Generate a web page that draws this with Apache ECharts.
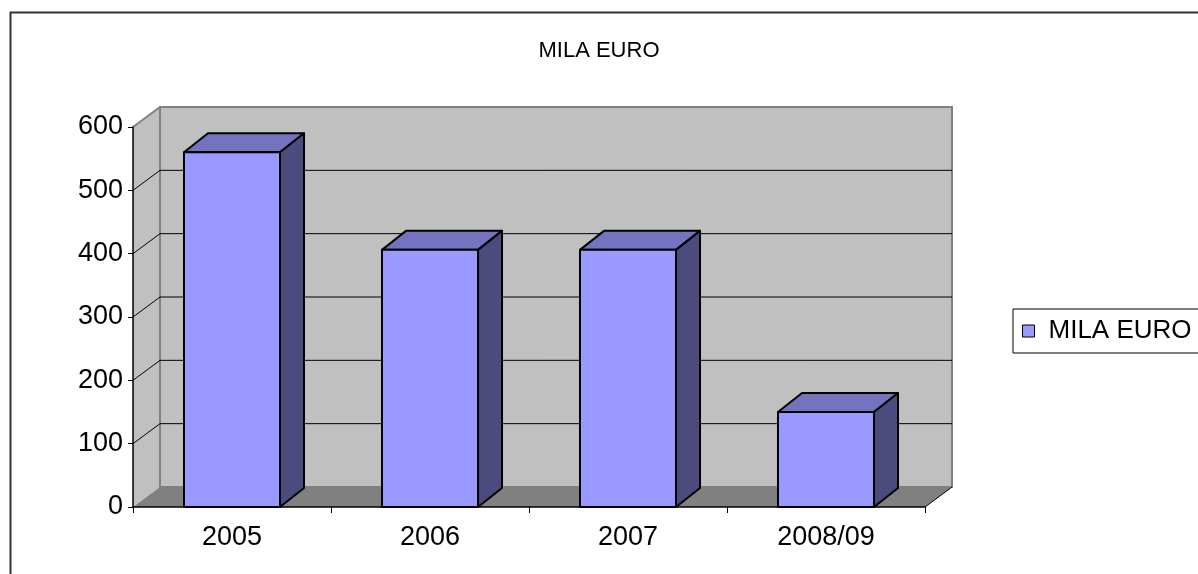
<!DOCTYPE html>
<html>
<head>
<meta charset="utf-8">
<script src="https://cdn.jsdelivr.net/npm/echarts@6/dist/echarts.min.js"></script>
<style>
html,body{margin:0;padding:0;background:#fff;}
#chart{width:1198px;height:574px;}
</style>
</head>
<body>
<div id="chart"></div>
<script>
const categories = ['2005', '2006', '2007', '2008/09'];
const seriesName = 'MILA EURO';
const values = [560, 406, 406, 150];
const yTicks = [0, 100, 200, 300, 400, 500, 600];

const FONT = 'Liberation Sans, Arial, sans-serif';
const WALL = { dx: 27, dy: -20 };
const BAR = { dx: 24, dy: -19, ratio: 0.485 };

const chart = echarts.init(document.getElementById('chart'), null, { renderer: 'canvas' });

function renderWalls(params, api) {
  const bw = api.size([1, 0])[0];
  const x0 = api.coord([0, 0])[0] - bw / 2;
  const x1 = api.coord([categories.length - 1, 0])[0] + bw / 2;
  const yb = api.coord([0, yTicks[0]])[1];
  const yt = api.coord([0, yTicks[yTicks.length - 1]])[1];
  const dx = WALL.dx, dy = WALL.dy;
  const children = [];
  children.push({ type: 'polygon', shape: { points: [[x0, yt], [x0 + dx, yt + dy], [x0 + dx, yb + dy], [x0, yb]] },
    style: { fill: '#C0C0C0', stroke: null } });
  children.push({ type: 'rect', shape: { x: x0 + dx, y: yt + dy, width: x1 - x0, height: yb - yt },
    style: { fill: '#C0C0C0', stroke: '#808080', lineWidth: 2 } });
  children.push({ type: 'polygon', shape: { points: [[x0, yb], [x1, yb], [x1 + dx, yb + dy], [x0 + dx, yb + dy]] },
    style: { fill: '#808080', stroke: null } });
  children.push({ type: 'line', shape: { x1: x0, y1: yt, x2: x0 + dx, y2: yt + dy },
    style: { stroke: '#808080', lineWidth: 2 } });
  children.push({ type: 'line', shape: { x1: x1, y1: yb, x2: x1 + dx, y2: yb + dy },
    style: { stroke: '#000', lineWidth: 1 } });
  for (let i = 1; i < yTicks.length - 1; i++) {
    const y = api.coord([0, yTicks[i]])[1];
    children.push({ type: 'line', shape: { x1: x0 + dx, y1: y + dy, x2: x1 + dx, y2: y + dy },
      style: { stroke: '#000', lineWidth: 1 } });
    children.push({ type: 'line', shape: { x1: x0, y1: y, x2: x0 + dx, y2: y + dy },
      style: { stroke: '#000', lineWidth: 1 } });
  }
  return { type: 'group', children: children };
}

function renderBar(params, api) {
  const cat = api.value(0);
  const val = api.value(1);
  const top = api.coord([cat, val]);
  const bot = api.coord([cat, 0]);
  const w = api.size([1, 0])[0] * BAR.ratio;
  const xl = top[0] - w / 2, xr = top[0] + w / 2;
  const yt = top[1], yb = bot[1];
  const dx = BAR.dx, dy = BAR.dy;
  const stroke = { stroke: '#000', lineWidth: 2, lineJoin: 'round' };
  return {
    type: 'group',
    children: [
      { type: 'polygon', shape: { points: [[xl, yt], [xl + dx, yt + dy], [xr + dx, yt + dy], [xr, yt]] },
        style: Object.assign({ fill: '#7373C0' }, stroke) },
      { type: 'polygon', shape: { points: [[xr, yt], [xr + dx, yt + dy], [xr + dx, yb + dy], [xr, yb]] },
        style: Object.assign({ fill: '#4B4B7D' }, stroke) },
      { type: 'rect', shape: { x: xl, y: yt, width: w, height: yb - yt },
        style: Object.assign({ fill: '#9999FF' }, stroke) }
    ]
  };
}

const option = {
  animation: false,
  backgroundColor: '#fff',
  title: {
    text: seriesName,
    left: 'center',
    top: 35,
    textStyle: { fontFamily: FONT, fontSize: 22, fontWeight: 'normal', color: '#000' }
  },
  legend: {
    data: [seriesName],
    left: 1013,
    top: 309,
    orient: 'vertical',
    padding: [8, 60, 8, 9],
    borderColor: '#000',
    borderWidth: 1,
    itemWidth: 12,
    itemHeight: 12,
    icon: 'rect',
    itemStyle: { color: '#9999FF', borderColor: '#000', borderWidth: 1 },
    textStyle: { fontFamily: FONT, fontSize: 26, color: '#000', padding: [0, 0, 0, 9], lineHeight: 28 }
  },
  graphic: [{
    type: 'rect', left: 8, top: 10, z: 100,
    shape: { x: 0, y: 0, width: 1400, height: 800 },
    style: { fill: null, stroke: '#333', lineWidth: 2 }
  }],
  grid: { left: 133, right: 273, top: 127, bottom: 67, containLabel: false },
  xAxis: {
    type: 'category',
    data: categories,
    boundaryGap: true,
    axisLine: { show: true, lineStyle: { color: '#000', width: 1.5 } },
    axisTick: { show: true, alignWithLabel: false, length: 6, lineStyle: { color: '#000', width: 1 } },
    axisLabel: { fontFamily: FONT, fontSize: 27, color: '#000', margin: 17 },
    splitLine: { show: false }
  },
  yAxis: {
    type: 'value',
    min: yTicks[0],
    max: yTicks[yTicks.length - 1],
    interval: yTicks[1] - yTicks[0],
    axisLine: { show: true, lineStyle: { color: '#000', width: 1.5 } },
    axisTick: { show: true, length: 5, lineStyle: { color: '#000', width: 1 } },
    axisLabel: { fontFamily: FONT, fontSize: 27, color: '#000', margin: 10, padding: [4, 0, 0, 0] },
    splitLine: { show: false }
  },
  series: [
    {
      type: 'custom',
      name: 'walls',
      z: -1,
      silent: true,
      renderItem: renderWalls,
      data: [[0, 0]]
    },
    {
      type: 'custom',
      name: seriesName,
      z: 3,
      itemStyle: { color: '#9999FF' },
      renderItem: renderBar,
      encode: { x: 0, y: 1 },
      data: values.map((v, i) => [i, v])
    }
  ]
};
chart.setOption(option);
</script>
</body>
</html>
